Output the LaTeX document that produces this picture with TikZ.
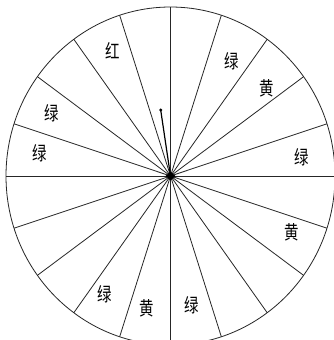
\documentclass[tikz,border=0pt]{standalone}
\usepackage{fontspec}
\newfontfamily\cjk{Noto Sans CJK SC}
\usetikzlibrary{shapes.geometric,calc}
\tikzset{
  rim/.style={line width=0.8pt, black!85},
  ray/.style={line width=0.8pt, black!85},
  lbl/.style={font=\cjk\fontsize{17}{17}\selectfont, inner sep=0pt, xscale=0.85, yscale=1.12},
  hub/.style={shape=diamond, fill=black, draw=none, minimum width=10pt, minimum height=9pt, inner sep=0pt},
  pointer/.style={line width=1.2pt, black},
}
\begin{document}
\begin{tikzpicture}[x=1pt,y=-1pt]
\useasboundingbox (0,0) rectangle (334,340);
\fill[white] (0,0) rectangle (334,340);
\begin{scope}
\clip (0,0) rectangle (334,340);
\coordinate (c) at (170.5,176);
\draw[rim] (c) ellipse [x radius=164.5, y radius=169];
\foreach \a in {0,18,...,342}{
  \coordinate (r\a) at ($(c)+(\a:164.5 and -169)$);
  \draw[ray] (c) -- (r\a);
}
\end{scope}
\coordinate (tip) at (160.7,110);
\draw[pointer] (c) -- (tip);
\fill (tip) circle (1.6);
\node[hub] (h) at (c) {};
\node[lbl] (l1) at (113,51) {红};
\node[lbl] (l2) at (232,61) {绿};
\node[lbl] (l3) at (267,88) {黄};
\node[lbl] (l4) at (302,157) {绿};
\node[lbl] (l5) at (52,113) {绿};
\node[lbl] (l6) at (40,153) {绿};
\node[lbl] (l7) at (292,232) {黄};
\node[lbl] (l8) at (105,294) {绿};
\node[lbl] (l9) at (147,308) {黄};
\node[lbl] (l10) at (192,305) {绿};
\end{tikzpicture}
\end{document}
